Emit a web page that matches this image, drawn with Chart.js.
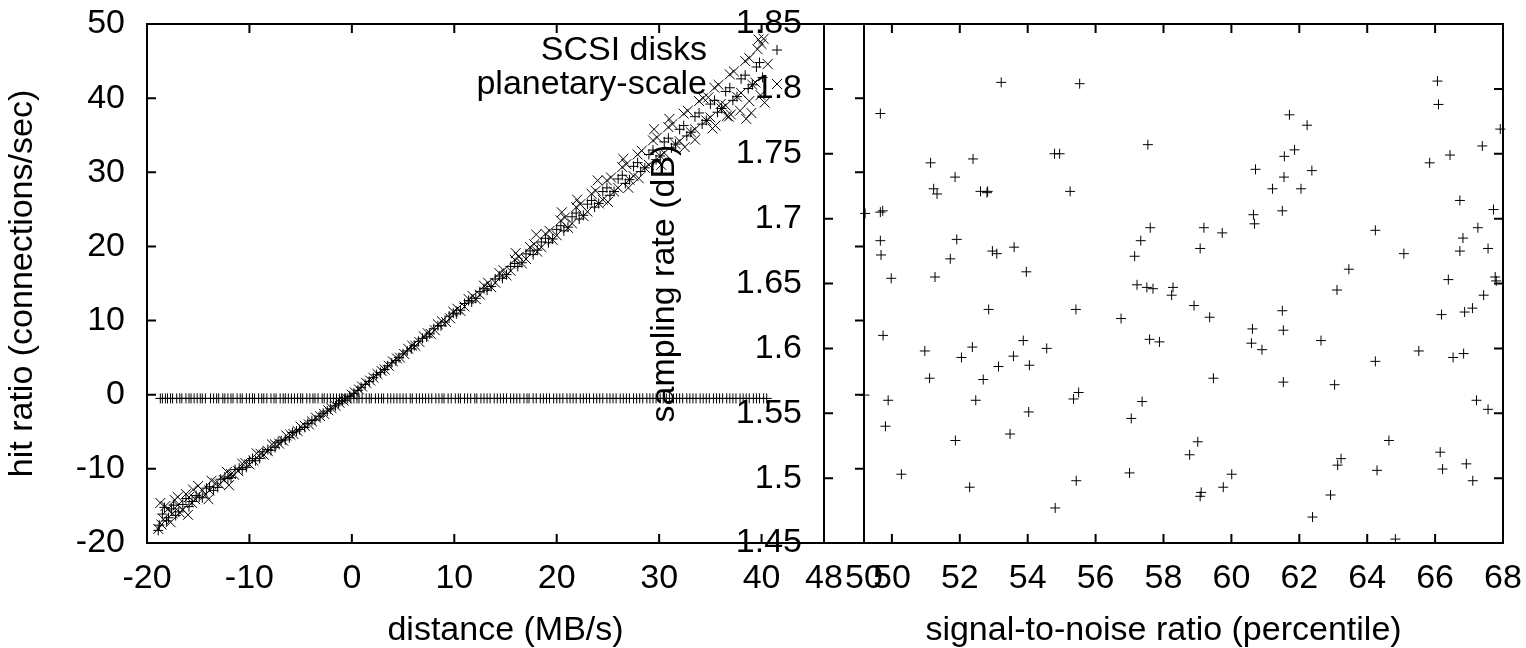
<!DOCTYPE html>
<html>
<head>
<meta charset="utf-8">
<script src="https://cdn.jsdelivr.net/npm/chart.js@4.4.1/dist/chart.umd.min.js"></script>
<style>
  body { margin: 0; background: #fff; }
  #wrap { position: relative; width: 1526px; height: 648px; }
  #wrap canvas { position: absolute; left: 0; top: 0; }
</style>
</head>
<body>
<div id="wrap">
  <canvas id="leftChart" width="1526" height="648"></canvas>
  <canvas id="rightChart" width="1526" height="648"></canvas>
</div>
<script>
const FONT = '"Liberation Sans", Arial, sans-serif';
const FONT_SIZE = 34;

// left panel: distance vs hit ratio
const LEFT_X_TICKS = [-20, -10, 0, 10, 20, 30, 40, 50];
const LEFT_Y_TICKS = [-20, -10, 0, 10, 20, 30, 40, 50];

const SCSI_X = [
  -18.8, -18.5, -18.1, -17.6, -17.2, -16.5, -15.9, -15.2, -14.6, -13.9, -13.1, -12.4, -11.8, -11.0, -10.3, -9.7, -9.0, -8.2, -7.5, -6.9, -6.1, -5.4, -4.6, -3.9, -3.1, -2.4, -1.6, -0.9, -0.2,
  0.6, 1.3, 2.1, 2.8, 3.5, 4.3, 5.0, 5.8, 6.5, 7.3, 8.0, 8.7, 9.5, 10.2, 11.0, 11.7, 12.5, 13.2, 14.0, 14.7, 15.5, 16.2, 17.0, 17.7, 18.5, 19.2, 20.0, 20.7, 21.5, 22.2, 23.0, 23.7,
  24.5, 25.2, 26.0, 26.7, 27.5, 28.2, 29.0, 29.7, 30.5, 31.2, 32.0, 32.7, 33.5, 34.2, 35.0, 35.7, 36.5, 37.2, 38.0, 38.7, 39.5, 40.1,
  -18.9, -18.3, -17.9, -17.4, -16.9, -16.2, -15.6, -14.9, -14.2, -13.5, -12.8, -12.1, -11.4, -10.7, -10.0, -9.4, -8.7, -7.9, -7.2, -6.5, -5.8, -5.1, -4.3, -3.6, -2.8, -2.1, -1.3, -0.6,
  0.2, 0.9, 1.7, 2.4, 3.2, 3.9, 4.6, 5.4, 6.1, 6.9, 7.6, 8.4, 9.1, 9.9, 10.6, 11.4, 12.1, 12.9, 13.6, 14.4, 15.1, 15.9, 16.6, 17.4, 18.1, 18.9, 19.6, 20.4, 21.1, 21.9,
  22.6, 23.4, 24.1, 24.9, 25.6, 26.4, 27.1, 27.9, 28.6, 29.4, 30.1, 30.9, 31.6, 32.4, 33.1, 33.9, 34.6, 35.4, 36.1, 36.9, 37.6, 38.4, 39.1, 39.8];
const SCSI_Y = [
  -17.6, -16.1, -17.0, -15.4, -16.3, -14.8, -15.1, -13.6, -13.9, -12.4, -12.5, -11.1, -11.2, -9.9, -9.8, -8.6, -8.6, -7.4, -7.1, -6.2, -5.8, -4.9, -4.4, -3.5, -2.9, -2.2, -1.5, -0.8, -0.2,
  0.6, 1.4, 2.3, 3.0, 3.9, 4.6, 5.5, 6.2, 7.2, 7.8, 8.9, 9.3, 10.6, 10.9, 12.3, 12.5, 13.9, 14.1, 15.6, 15.7, 17.3, 17.3, 19.0, 18.9, 20.6, 20.5, 22.3, 22.1, 24.0, 23.7, 25.7, 25.3,
  27.4, 26.9, 29.1, 28.5, 30.8, 30.1, 32.4, 31.7, 34.1, 33.3, 35.8, 34.9, 37.5, 36.5, 39.2, 38.1, 40.9, 39.7, 42.6, 41.3, 44.2, 42.8,
  -18.3, -15.2, -16.6, -14.9, -15.8, -14.0, -14.4, -13.8, -12.6, -12.9, -11.4, -11.3, -10.1, -10.1, -8.9, -8.9, -7.7, -7.5, -6.4, -6.1, -5.1, -4.7, -3.9, -3.4, -2.5, -1.9, -1.2, -0.5,
  0.2, 1.0, 1.8, 2.7, 3.4, 4.3, 5.0, 5.9, 6.6, 7.6, 8.2, 9.3, 9.8, 11.0, 11.4, 12.7, 13.0, 14.3, 14.6, 16.0, 16.2, 17.7, 17.8, 19.4, 19.5, 21.1, 21.0, 22.8, 22.6, 24.5,
  24.2, 26.2, 25.8, 27.9, 27.4, 29.6, 29.0, 31.3, 30.6, 33.0, 32.2, 34.6, 33.8, 36.3, 35.4, 38.0, 37.0, 39.7, 38.6, 41.4, 40.2, 43.1, 41.8, 44.8];

const PLANET_X = [
  -18.9, -18.7, -18.4, -18.0, -17.7, -17.3, -16.8, -16.2, -15.6, -15.0, -14.3, -13.7, -12.9, -12.2, -11.5, -10.7, -10.0, -9.3, -8.6, -7.8, -7.1, -6.4, -5.7, -5.0, -4.2, -3.5, -2.7, -2.0, -1.2, -0.5,
  0.3, 1.0, 1.8, 2.5, 3.2, 4.0, 4.7, 5.5, 6.2, 7.0, 7.7, 8.4, 9.2, 9.9, 10.6, 11.4, 12.1, 12.9, 13.6, 14.4, 15.1, 15.9, 16.6, 17.4, 18.1, 18.9, 19.6, 20.4, 21.1, 21.9,
  22.6, 23.4, 24.1, 24.9, 25.6, 26.4, 27.1, 27.9, 28.6, 29.4, 30.1, 30.9, 31.6, 32.4, 33.1, 33.9, 34.6, 35.4, 36.1, 36.9, 37.6, 38.4, 39.1, 39.6, 40.0, 38.8, 37.0, 36.0, 34.8, 39.9,
  -18.6, -18.2, -17.5, -17.0, -16.5, -15.9, -15.3, -14.6, -13.9, -13.3, -12.5, -11.8, -11.1, -10.4, -9.6, -8.9, -8.2, -7.5, -6.7, -6.0, -5.3, -4.6, -3.9, -3.1, -2.3, -1.6, -0.8, 0.0,
  0.7, 1.4, 2.1, 2.9, 3.6, 4.4, 5.1, 5.9, 6.6, 7.4, 8.1, 8.8, 9.6, 10.3, 11.0, 11.8, 12.5, 13.3, 14.0, 14.8, 15.5, 16.3, 17.0, 17.8, 18.5, 19.3, 20.0, 20.8, 21.5, 22.3,
  23.0, 23.8, 24.5, 25.3, 26.0, 26.8, 27.5, 28.3, 29.0, 29.8, 30.5, 31.3, 32.0, 32.8, 33.5, 34.3, 35.0, 35.8, 36.5, 37.3, 38.0, 38.8, 39.4, 40.2, 39.0, 37.9, 36.6, 35.5, 38.5, 40.3, 40.6, 39.7,
  28.0, 30.2, 32.5, 29.5, 31.0, 26.5, 24.0, 22.0, 20.5, 18.0, 16.0, 33.5, 35.2, 36.8, 27.0, 25.0, -16.0, -14.0, -12.0, -17.0, -15.5];
const PLANET_Y = [
  -18.1, -14.6, -16.8, -15.5, -17.2, -14.2, -15.9, -13.4, -14.6, -12.3, -13.5, -11.6, -12.1, -10.4, -10.8, -9.3, -9.4, -7.9, -8.1, -6.7, -6.6, -5.5, -5.3, -4.3, -4.0, -3.1, -2.6, -1.8, -1.1, -0.5,
  0.3, 1.1, 1.9, 2.8, 3.4, 4.5, 5.0, 6.2, 6.6, 7.9, 8.2, 9.5, 9.8, 11.2, 11.3, 12.9, 12.9, 14.7, 14.5, 16.4, 16.1, 18.2, 17.7, 19.9, 19.3, 21.7, 20.9, 23.5, 22.5, 25.3,
  24.1, 27.1, 25.8, 28.9, 27.4, 30.7, 29.0, 32.4, 30.6, 34.3, 32.2, 36.1, 33.8, 37.9, 35.4, 39.6, 37.0, 41.4, 38.6, 43.2, 40.2, 45.0, 41.8, 46.6, 47.3, 39.6, 37.8, 39.2, 40.1, 40.4,
  -17.5, -15.0, -16.0, -14.9, -15.5, -13.8, -14.1, -12.9, -12.9, -11.9, -11.5, -10.7, -10.3, -9.2, -8.9, -8.0, -7.6, -6.7, -6.2, -5.4, -4.9, -4.2, -3.6, -2.9, -2.1, -1.5, -0.8, 0.0,
  0.7, 1.6, 2.3, 3.2, 3.9, 4.9, 5.5, 6.6, 7.1, 8.3, 8.7, 9.9, 10.3, 11.6, 11.9, 13.3, 13.5, 15.1, 15.1, 16.8, 16.7, 18.6, 18.3, 20.3, 19.9, 22.1, 21.5, 23.9, 23.1, 25.7,
  24.7, 27.5, 26.3, 29.3, 27.9, 31.1, 29.5, 32.9, 31.0, 34.7, 32.6, 36.5, 34.2, 38.3, 35.8, 40.0, 37.4, 41.8, 39.0, 43.6, 40.7, 45.4, 42.1, 48.0, 38.0, 38.3, 37.6, 36.3, 37.2, 39.4, 44.6, 47.9,
  29.2, 31.0, 33.4, 35.8, 37.2, 31.8, 28.9, 26.3, 24.6, 21.6, 19.1, 34.4, 35.9, 37.5, 27.9, 26.0, -16.2, -14.1, -12.2, -13.8, -12.8];

// flat row of points just under zero
const FLAT_X = [
  -18.7, -18.5, -18.2, -18.0, -17.7, -17.5, -17.1, -16.8, -16.6, -16.2, -15.9, -15.7, -15.4, -15.1, -14.8, -14.6, -14.3, -13.8, -13.5, -13.2,
  -13.0, -12.6, -12.4, -12.1, -11.8, -11.6, -11.2, -10.9, -10.7, -10.3, -10.0, -9.7, -9.5, -9.1, -8.8, -8.6, -8.3, -7.9, -7.6, -7.4,
  -7.0, -6.7, -6.5, -6.2, -5.9, -5.6, -5.3, -5.0, -4.8, -4.4, -4.1, -3.8, -3.6, -3.3, -2.9, -2.7, -2.4, -2.1, -1.8, -1.5,
  -1.2, -1.0, -0.7, -0.4, -0.1, 0.2, 0.5, 0.7, 1.0, 1.4, 1.7, 1.9, 2.3, 2.6, 2.9, 3.1, 3.5, 3.8, 4.1, 4.4,
  4.7, 5.0, 5.3, 5.7, 5.9, 6.3, 6.6, 6.9, 7.2, 7.5, 7.8, 8.2, 8.5, 8.8, 9.0, 9.4, 9.7, 10.1, 10.4, 10.6,
  11.0, 11.3, 11.6, 12.0, 12.2, 12.6, 12.9, 13.2, 13.5, 13.9, 14.2, 14.5, 14.8, 15.1, 15.5, 15.8, 16.1, 16.4, 16.8, 17.1,
  17.3, 17.7, 18.0, 18.4, 18.7, 19.0, 19.3, 19.7, 20.0, 20.3, 20.6, 21.0, 21.3, 21.6, 21.9, 22.3, 22.6, 22.9, 23.2, 23.6,
  23.9, 24.2, 24.5, 24.9, 25.2, 25.5, 25.8, 26.2, 26.5, 26.8, 27.1, 27.5, 27.8, 28.1, 28.4, 28.8, 29.1, 29.4, 29.7, 30.1,
  30.4, 30.7, 31.0, 31.4, 31.7, 32.0, 32.3, 32.7, 33.0, 33.3, 33.6, 34.0, 34.3, 34.6, 34.9, 35.3, 35.6, 35.9, 36.2, 36.6,
  36.9, 37.2, 37.5, 37.9, 38.2, 38.5, 38.8, 39.2, 39.5, 39.8, 40.2, 40.5];
const FLAT_Y = [
  -0.5, -0.5, -0.5, -0.5, -0.5, -0.5, -0.5, -0.5, -0.5, -0.5, -0.5, -0.5, -0.5, -0.5, -0.5, -0.5, -0.5, -0.5, -0.5, -0.5,
  -0.5, -0.5, -0.5, -0.5, -0.5, -0.5, -0.5, -0.5, -0.5, -0.5, -0.5, -0.5, -0.5, -0.5, -0.5, -0.5, -0.5, -0.5, -0.5, -0.5,
  -0.5, -0.5, -0.5, -0.5, -0.5, -0.5, -0.5, -0.5, -0.5, -0.5, -0.5, -0.5, -0.5, -0.5, -0.5, -0.5, -0.5, -0.5, -0.5, -0.5,
  -0.5, -0.5, -0.5, -0.5, -0.5, -0.5, -0.5, -0.5, -0.5, -0.5, -0.5, -0.5, -0.5, -0.5, -0.5, -0.5, -0.5, -0.5, -0.5, -0.5,
  -0.5, -0.5, -0.5, -0.5, -0.5, -0.5, -0.5, -0.5, -0.5, -0.5, -0.5, -0.5, -0.5, -0.5, -0.5, -0.5, -0.5, -0.5, -0.5, -0.5,
  -0.5, -0.5, -0.5, -0.5, -0.5, -0.5, -0.5, -0.5, -0.5, -0.5, -0.5, -0.5, -0.5, -0.5, -0.5, -0.5, -0.5, -0.5, -0.5, -0.5,
  -0.5, -0.5, -0.5, -0.5, -0.5, -0.5, -0.5, -0.5, -0.5, -0.5, -0.5, -0.5, -0.5, -0.5, -0.5, -0.5, -0.5, -0.5, -0.5, -0.5,
  -0.5, -0.5, -0.5, -0.5, -0.5, -0.5, -0.5, -0.5, -0.5, -0.5, -0.5, -0.5, -0.5, -0.5, -0.5, -0.5, -0.5, -0.5, -0.5, -0.5,
  -0.5, -0.5, -0.5, -0.5, -0.5, -0.5, -0.5, -0.5, -0.5, -0.5, -0.5, -0.5, -0.5, -0.5, -0.5, -0.5, -0.5, -0.5, -0.5, -0.5,
  -0.5, -0.5, -0.5, -0.5, -0.5, -0.5, -0.5, -0.5, -0.5, -0.5, -0.5, -0.5];

// right panel: signal-to-noise vs sampling rate
const RIGHT_X_TICKS = [48, 50, 52, 54, 56, 58, 60, 62, 64, 66, 68];
const RIGHT_Y_TICKS = [1.45, 1.5, 1.55, 1.6, 1.65, 1.7, 1.75, 1.8, 1.85];
const RIGHT_Y_LABELS = ['1.45', '1.5', '1.55', '1.6', '1.65', '1.7', '1.75', '1.8', '1.85'];

const SNR_X = [53.22, 55.53, 49.66, 57.54, 54.79, 54.94, 51.14, 52.39, 51.86, 51.23, 51.33, 52.61, 52.82, 52.80, 55.25, 49.73, 49.66, 49.21, 57.61, 49.66, 51.91, 57.33, 49.68, 52.96, 53.09, 53.60, 51.72, 57.15, 49.98, 51.27, 53.96,
  57.22, 57.51, 57.69, 52.85, 55.42, 56.75, 49.74, 50.97, 52.37, 52.05, 53.87, 53.58, 53.14, 54.05, 54.56, 57.59, 57.88, 51.11, 52.69, 49.19, 49.89, 52.47, 55.35, 55.50, 54.03, 57.37, 49.81, 57.05, 51.87, 53.48, 50.28, 52.29, 55.43, 57.00, 54.81,
  66.07, 66.10, 61.71, 62.23, 67.92, 61.86, 61.56, 67.39, 66.44, 65.84, 60.71, 62.37, 61.55, 61.21, 62.05, 66.73, 61.50, 67.72, 60.65, 60.68, 59.19, 59.73, 59.08, 64.24, 67.26, 66.82, 67.56, 66.73, 65.08, 63.46, 66.39, 67.77, 67.80,
  58.28, 58.24, 58.90, 59.36, 61.50, 63.11, 67.43, 67.10, 66.87, 66.19, 60.62, 61.53, 60.59, 60.90, 62.64, 65.52, 64.24, 66.53, 66.84, 59.47, 61.53, 63.04, 67.22, 67.56, 59.01, 58.77, 60.01, 59.11, 59.08, 59.76, 64.64, 63.23, 63.13, 64.29,
  66.15, 66.22, 66.92, 67.11, 62.92, 62.39, 64.83];
const RATE_Y = [1.805, 1.804, 1.781, 1.757, 1.750, 1.750, 1.743, 1.746, 1.732, 1.723, 1.719, 1.721, 1.721, 1.720, 1.721, 1.706, 1.705, 1.704, 1.693, 1.683, 1.684, 1.683, 1.672, 1.675, 1.673, 1.678, 1.669, 1.671, 1.654, 1.655, 1.659,
  1.649, 1.647, 1.646, 1.630, 1.630, 1.623, 1.610, 1.598, 1.601, 1.593, 1.606, 1.594, 1.586, 1.587, 1.600, 1.607, 1.605, 1.577, 1.576, 1.564, 1.560, 1.560, 1.561, 1.566, 1.551, 1.559, 1.540, 1.546, 1.529, 1.534, 1.503, 1.493, 1.498, 1.504, 1.477,
  1.806, 1.788, 1.780, 1.772, 1.769, 1.753, 1.748, 1.756, 1.749, 1.743, 1.738, 1.737, 1.732, 1.723, 1.723, 1.714, 1.706, 1.707, 1.703, 1.696, 1.693, 1.689, 1.677, 1.691, 1.693, 1.685, 1.677, 1.675, 1.673, 1.661, 1.653, 1.655, 1.652,
  1.647, 1.641, 1.633, 1.624, 1.629, 1.645, 1.641, 1.631, 1.628, 1.626, 1.615, 1.614, 1.604, 1.599, 1.606, 1.598, 1.590, 1.593, 1.596, 1.577, 1.574, 1.572, 1.560, 1.553, 1.528, 1.518, 1.503, 1.489, 1.486, 1.493, 1.529, 1.515, 1.510, 1.506,
  1.520, 1.507, 1.511, 1.498, 1.487, 1.470, 1.453];

Chart.defaults.font.family = FONT;
Chart.defaults.font.size = FONT_SIZE;
Chart.defaults.color = '#000';

function toPoints(xs, ys) {
  return xs.map((x, i) => ({ x, y: ys[i] }));
}

function setTicks(values) {
  return scale => { scale.ticks = values.map(v => ({ value: v })); };
}

// gnuplot-style box with inward ticks on all four sides
const framePlugin = {
  id: 'frame',
  afterDraw(chart) {
    const { ctx, chartArea: a, scales: { x, y } } = chart;
    const len = 9;
    ctx.save();
    ctx.strokeStyle = '#000';
    ctx.lineWidth = 2;
    ctx.strokeRect(a.left, a.top, a.right - a.left, a.bottom - a.top);
    ctx.beginPath();
    x.ticks.forEach(t => {
      const p = x.getPixelForValue(t.value);
      ctx.moveTo(p, a.bottom); ctx.lineTo(p, a.bottom - len);
      ctx.moveTo(p, a.top);    ctx.lineTo(p, a.top + len);
    });
    y.ticks.forEach(t => {
      const p = y.getPixelForValue(t.value);
      ctx.moveTo(a.left, p);  ctx.lineTo(a.left + len, p);
      ctx.moveTo(a.right, p); ctx.lineTo(a.right - len, p);
    });
    ctx.stroke();
    ctx.restore();
  }
};

const keyPlugin = {
  id: 'key',
  afterDraw(chart) {
    const { ctx } = chart;
    ctx.save();
    ctx.font = `${FONT_SIZE}px ${FONT}`;
    ctx.fillStyle = '#000';
    ctx.textAlign = 'right';
    ctx.textBaseline = 'alphabetic';
    ctx.fillText('SCSI disks', 707, 60);
    ctx.fillText('planetary-scale', 707, 94);
    ctx.strokeStyle = '#000';
    ctx.lineWidth = 1;
    ctx.beginPath();
    ctx.moveTo(772, 50); ctx.lineTo(782, 50);
    ctx.moveTo(777, 45); ctx.lineTo(777, 55);
    ctx.moveTo(772, 79); ctx.lineTo(782, 89);
    ctx.moveTo(772, 89); ctx.lineTo(782, 79);
    ctx.stroke();
    ctx.restore();
  }
};

function axis(opts) {
  return {
    type: 'linear',
    min: opts.min, max: opts.max,
    afterBuildTicks: setTicks(opts.ticks),
    afterFit: scale => {
      if (opts.width) scale.width = opts.width;
      if (opts.height) scale.height = opts.height;
      // plot box is placed by layout padding, not by label overhang
      scale.paddingTop = 0; scale.paddingBottom = 0;
      scale.paddingLeft = 0; scale.paddingRight = 0;
    },
    grid: { display: false, drawTicks: false },
    border: { display: false },
    ticks: {
      padding: opts.pad,
      autoSkip: false,
      maxRotation: 0,
      callback: opts.labels ? (v, i) => opts.labels[i] : v => String(v),
    },
    title: {
      display: true,
      text: opts.title,
      font: { size: FONT_SIZE, lineHeight: 1 },
      padding: opts.titlePad,
    },
  };
}

const markerBase = { showLine: false, borderColor: '#000', backgroundColor: '#000', borderWidth: 1, clip: false };

new Chart(document.getElementById('leftChart'), {
  type: 'scatter',
  data: {
    datasets: [
      { ...markerBase, label: 'SCSI disks', data: toPoints(SCSI_X, SCSI_Y), pointStyle: 'cross', pointRadius: 5 },
      { ...markerBase, label: 'SCSI disks', data: toPoints(FLAT_X, FLAT_Y), pointStyle: 'cross', pointRadius: 5 },
      { ...markerBase, label: 'planetary-scale', data: toPoints(PLANET_X, PLANET_Y), pointStyle: 'crossRot', pointRadius: 7 },
    ]
  },
  options: {
    responsive: false,
    animation: false,
    devicePixelRatio: 1,
    layout: { padding: { left: 0, right: 662, top: 24, bottom: 0 } },
    plugins: { legend: { display: false }, tooltip: { enabled: false } },
    scales: {
      x: axis({ min: -20, max: 50, ticks: LEFT_X_TICKS, height: 105, pad: 15, title: 'distance (MB/s)', titlePad: { bottom: 0 } }),
      y: axis({ min: -20, max: 50, ticks: LEFT_Y_TICKS, width: 147, pad: 22, title: 'hit ratio (connections/sec)', titlePad: { top: 6 } }),
    }
  },
  plugins: [framePlugin, keyPlugin]
});

new Chart(document.getElementById('rightChart'), {
  type: 'scatter',
  data: {
    datasets: [
      { ...markerBase, label: 'SCSI disks', data: toPoints(SNR_X, RATE_Y), pointStyle: 'cross', pointRadius: 5 },
    ]
  },
  options: {
    responsive: false,
    animation: false,
    devicePixelRatio: 1,
    layout: { padding: { left: 640, right: 23, top: 24, bottom: 0 } },
    plugins: { legend: { display: false }, tooltip: { enabled: false } },
    scales: {
      x: axis({ min: 48, max: 68, ticks: RIGHT_X_TICKS, height: 105, pad: 15, title: 'signal-to-noise ratio (percentile)', titlePad: { bottom: 0 } }),
      y: axis({ min: 1.45, max: 1.85, ticks: RIGHT_Y_TICKS, labels: RIGHT_Y_LABELS, width: 184, pad: 22, title: 'sampling rate (dB)', titlePad: { top: 8 } }),
    }
  },
  plugins: [framePlugin]
});
</script>
</body>
</html>
